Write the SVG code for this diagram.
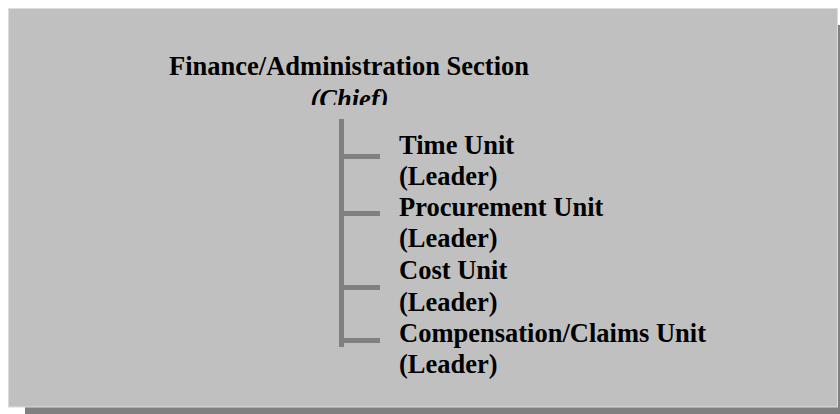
<svg xmlns="http://www.w3.org/2000/svg" width="840" height="414" viewBox="0 0 840 414">
  <style>
    .t { font-family: "Liberation Serif", "Times New Roman", serif; font-weight: bold; font-size: 26.5px; fill: #000; }
    .ti { font-style: italic; }
    .ln { stroke: #808080; stroke-width: 5; fill: none; }
  </style>
  <defs>
    <clipPath id="chiefClip">
      <rect x="0" y="80" width="840" height="25"/>
    </clipPath>
  </defs>
  <rect id="shadow" x="25" y="25" width="830" height="399" fill="#808080"/>
  <rect id="panel" x="8.5" y="8.5" width="829" height="398.5" fill="#c0c0c0" stroke="#dcdcdc" stroke-width="1"/>

  <g id="connectors">
    <line class="ln" x1="341.5" y1="119" x2="341.5" y2="347"/>
    <line class="ln" x1="341.5" y1="156.5" x2="380" y2="156.5"/>
    <line class="ln" x1="341.5" y1="213.5" x2="380" y2="213.5"/>
    <line class="ln" x1="341.5" y1="287.5" x2="380" y2="287.5"/>
    <line class="ln" x1="341.5" y1="340.5" x2="380" y2="340.5"/>
  </g>

  <g id="section">
    <text class="t" x="349" y="75" text-anchor="middle">Finance/Administration Section</text>
    <text class="t ti" x="349.5" y="107.5" text-anchor="middle" clip-path="url(#chiefClip)">(Chief)</text>
  </g>
  <g id="time-unit">
    <text class="t" x="399" y="154">Time Unit</text>
    <text class="t" x="399" y="185">(Leader)</text>
  </g>
  <g id="procurement-unit">
    <text class="t" x="399" y="216">Procurement Unit</text>
    <text class="t" x="399" y="247">(Leader)</text>
  </g>
  <g id="cost-unit">
    <text class="t" x="399" y="279">Cost Unit</text>
    <text class="t" x="399" y="311">(Leader)</text>
  </g>
  <g id="compensation-claims-unit">
    <text class="t" x="399" y="342">Compensation/Claims Unit</text>
    <text class="t" x="399" y="373">(Leader)</text>
  </g>
</svg>
